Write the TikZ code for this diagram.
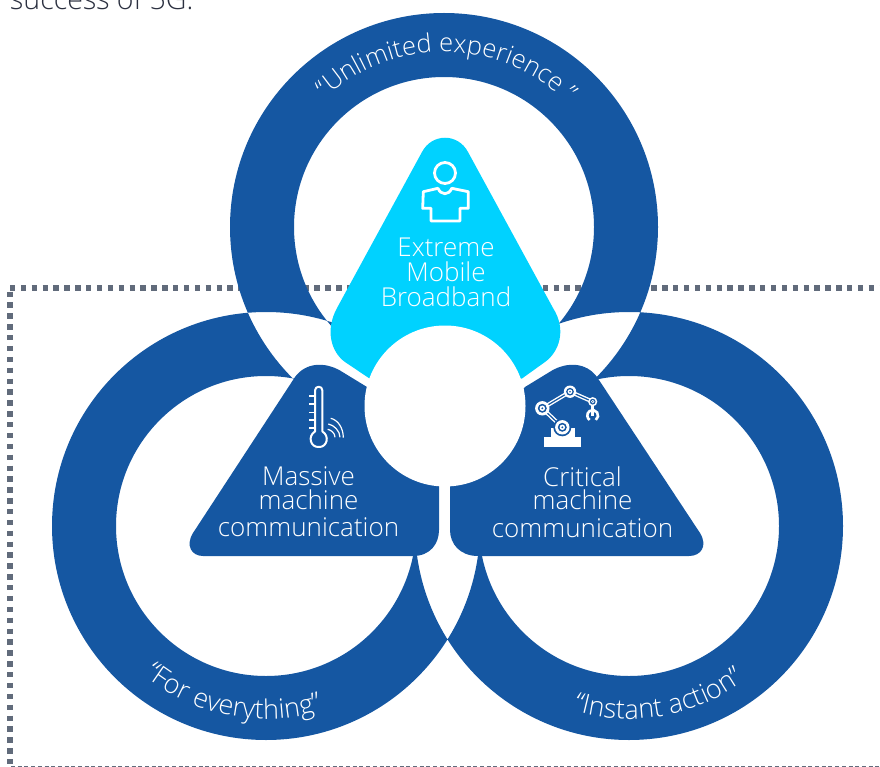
\documentclass[tikz,border=0pt]{standalone}
\usepackage{fontspec}
\setmainfont{Open Sans Light}
\usetikzlibrary{decorations.text}
\definecolor{nblue}{HTML}{1557A2}
\definecolor{ncyan}{HTML}{00D2FF}
\definecolor{ngrey}{HTML}{616B7B}
\definecolor{ntext}{HTML}{2B3040}
\tikzset{
  ringfill/.style={fill=nblue,even odd rule},
  frameDots/.style={draw=ngrey,line width=5.4pt,dash pattern=on 5.4pt off 5.47pt},
  frameDash/.style={draw=ngrey,line width=1pt,dash pattern=on 4pt off 2.7pt},
  label/.style={text=white,align=center,font=\fontsize{26}{25.5}\selectfont,inner sep=0pt},
  icon/.style={draw=white,line width=2pt,line join=round,line cap=round,fill=none},
  ringtext/.style 2 args={decorate,decoration={text along path,text align=center,text={|\fontsize{#1}{#1}\selectfont\color{white}|#2}}}
}
\begin{document}
\begin{tikzpicture}[x=1pt,y=-1pt]
\useasboundingbox (0,0) rectangle (880,767);
\clip (0,0) rectangle (880,767);
\coordinate (T) at (444,227);
\coordinate (L) at (266,526);
\coordinate (R) at (629,526);
\coordinate (C) at (445,406);
\coordinate (frameTL) at (10,288);
\coordinate (frameTR) at (880,288);
\coordinate (frameLT) at (10,291.6);
\coordinate (frameLB) at (10,764);
\coordinate (frameBL) at (11,766.6);
\coordinate (frameBR) at (880,766.6);
\node[anchor=base west,text=ntext,inner sep=0pt,font=\fontsize{28.5}{28.5}\selectfont] (intro) at (10,9.5) {success of 5G.};
\draw[frameDots] (frameTL) -- (frameTR);
\draw[frameDots] (frameLT) -- (frameLB);
\draw[frameDash] (frameBL) -- (frameBR);
% rings
\fill[ringfill] (T) circle (214) (T) circle (150) (L) circle (214) (L) circle (150) (R) circle (214) (R) circle (150);
% triangles
\fill[ncyan] (369.5,378.5) -- (345,362) .. controls (331,352) and (325,330) .. (337,308) -- (422,152) .. controls (432,133) and (458,133) .. (468,152) -- (553,308) .. controls (567,330) and (559,352) .. (545,362) -- (522,378.5) -- cycle;
\fill[nblue] (367,387) -- (340,370.5) .. controls (325,362) and (306,362) .. (295,377) -- (193,533) .. controls (185,546) and (192,556) .. (203,556) -- (413,556) .. controls (430,556) and (439,544) .. (439,530) -- (439,470) -- cycle;
\fill[nblue] (525,387) -- (552,370.5) .. controls (567,362) and (586,362) .. (597,377) -- (700,533) .. controls (708,546) and (701,556) .. (689,556) -- (478,556) .. controls (460,556) and (450,544) .. (450,530) -- (450,470) -- cycle;
\fill[white] (C) circle (80.5);
% person icon
\draw[icon,line width=2.8pt] (445,173) circle (10.5);
\draw[icon,line width=2.8pt] (438,188.3) -- (423.3,191.7) -- (422.7,208.3) -- (431,208.3) -- (431,221) -- (460,221) -- (460,208.3) -- (468.3,208.3) -- (468.3,191.7) -- (451.7,188.3) .. controls (449,195.5) and (441,195.5) .. (438,188.3);
% thermometer icon
\draw[icon] (315,431.5) -- (315,390.5) .. controls (315,385.5) and (322.4,385.5) .. (322.4,390.5) -- (322.4,431.5) .. controls (330,436) and (327,447.5) .. (318.7,447) .. controls (310.4,447.5) and (307.4,436) .. (315,431.5);
\draw[icon,line width=1.6pt,line cap=butt] (309.3,396) -- (315,396) (309.3,404) -- (315,404) (309.3,412.3) -- (315,412.3) (309.3,420) -- (315,420) (309.3,427.7) -- (315,427.7);
\draw[icon,line width=1.2pt,line cap=butt] (327.7,429.3) .. controls (331,430) and (335,433) .. (335,437.3);
\draw[icon,line width=1.2pt,line cap=butt] (328.3,424) .. controls (334,425) and (340,431) .. (340,437.3);
\draw[icon,line width=1.2pt,line cap=butt] (330.7,418.3) .. controls (338,420) and (343.3,428) .. (343.3,437.7);
% robot icon
\coordinate (j1) at (562.3,427.3);
\coordinate (j2) at (542.3,408.3);
\coordinate (j3) at (570,391.7);
\coordinate (j4) at (592.7,401.7);
\coordinate (grip) at (592.7,416);
\fill[white] (544.3,437.3) rectangle (581,446.7);
\fill[white] (551,428.3) rectangle (575,437.5);
\draw[line width=4pt,white] (j1) -- (j2) (j2) -- (j3) (j3) -- (j4);
\draw[line width=1.2pt,nblue] (j1) -- (j2) (j2) -- (j3) (j3) -- (j4);
\draw[line width=3pt,white] (j4) -- (grip);
\fill[nblue] (j1) circle (9);
\foreach \p/\r in {j1/7.2,j2/7.2,j3/6.2,j4/4.6}{
  \fill[white] (\p) circle (\r);
  \fill[nblue] (\p) circle (\r*0.62);
  \fill[white] (\p) circle (\r*0.38);
  \fill[nblue] (\p) circle (\r*0.14);
}
\begin{scope}[y=1pt]
\draw[white,line width=2.6pt] (592.7,-415.5) ++(-55:5.4) arc[start angle=-55,end angle=235,radius=5.4];
\end{scope}
\fill[nblue] (591.9,417) rectangle (593.5,424);
% labels
\node[label] (embb) at (446,272.2) {Extreme\\[-0.5pt]Mobile\\Broadband};
\node[label] (mmc) at (308.5,502) {Massive\\[-2pt]machine\\[2pt]communication};
\node[label] (cmc) at (582.5,502) {Critical\\[-2pt]machine\\[2pt]communication};
% ring texts
\begin{scope}[y=1pt]
\path[ringtext={25.5}{“Unlimited experience ”}] (T) ++(134:175) arc[start angle=134,end angle=44,radius=175];
\path[ringtext={27}{“For everything”}] (L) ++(-131:193) arc[start angle=-131,end angle=-71,radius=193];
\path[ringtext={27}{“Instant action”}] (R) ++(-110:193) arc[start angle=-110,end angle=-50,radius=193];
\end{scope}
\end{tikzpicture}
\end{document}
